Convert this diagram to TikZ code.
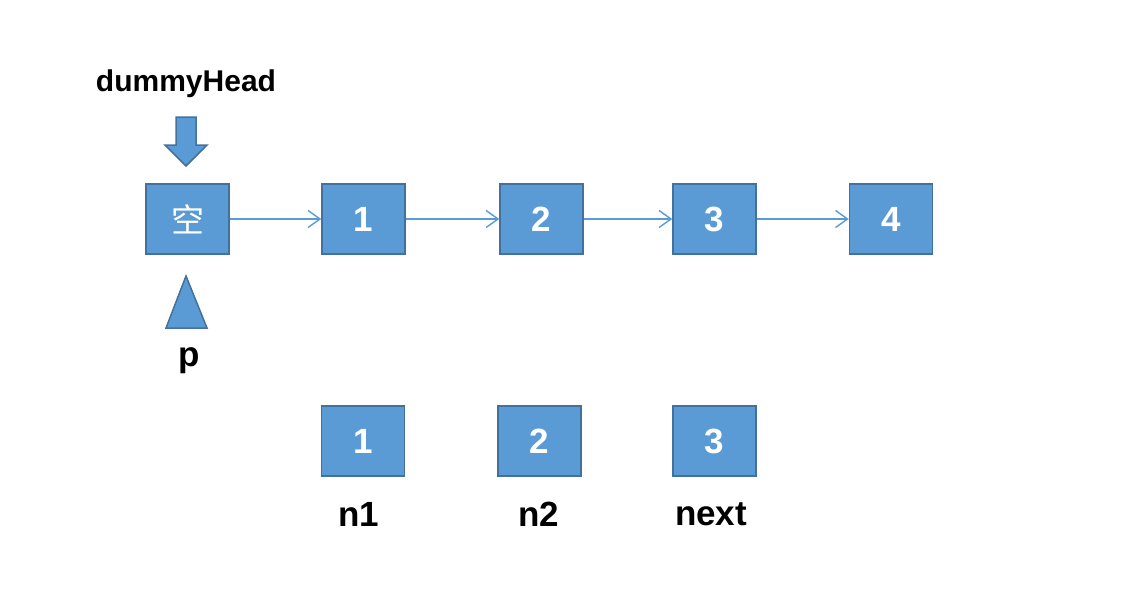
\documentclass[tikz,border=0pt]{standalone}
\usepackage{fontspec}
\setmainfont{Liberation Sans}
\newfontfamily\cjk{Noto Sans CJK SC}
\usetikzlibrary{arrows.meta}
\definecolor{boxfill}{HTML}{5B9BD5}
\definecolor{boxline}{HTML}{41719C}
\begin{document}
\begin{tikzpicture}[x=1pt,y=-1pt,
  lnode/.style={draw=boxline,fill=boxfill,line width=1.5pt,minimum width=83pt,minimum height=70pt,inner sep=0pt,text=white,font=\fontsize{35}{38}\selectfont\bfseries},
  lbl/.style={inner sep=0pt,font=\fontsize{35}{40}\selectfont\bfseries,text=black},
  link/.style={draw=boxfill,line width=1.4pt,-{Straight Barb[length=12pt,width=17pt,line width=1.4pt]}},
  pointer/.style={draw=boxline,fill=boxfill,line width=1.5pt,line join=miter}]
\useasboundingbox (0,0) rectangle (1142,592);
\node[lnode] (b0) at (187.5,219) {\cjk\mdseries\fontsize{33}{36}\selectfont 空};
\node[lnode] (b1) at (363.5,219) {1};
\node[lnode] (b2) at (541.5,219) {2};
\node[lnode] (b3) at (714.5,219) {3};
\node[lnode] (b4) at (891,219) {4};
\draw[link] (b0) -- (b1);
\draw[link] (b1) -- (b2);
\draw[link] (b2) -- (b3);
\draw[link] (b3) -- (b4);
\node[lnode] (n1) at (363,441) {1};
\node[lnode] (n2) at (539.5,441) {2};
\node[lnode] (nx) at (714.5,441) {3};
\node[lbl,font=\fontsize{30}{34}\selectfont\bfseries] (dh) at (186,84) {dummyHead};
\node[lbl] (ln1) at (359,514) {n1};
\node[lbl] (ln2) at (539,514) {n2};
\node[lbl] (lnx) at (711,514) {next};
\node[lbl] (lp) at (189,361) {p};
\draw[pointer] (176,117) -- (196,117) -- (196,145) -- (207,145) -- (186,166) -- (165,145) -- (176,145) -- cycle;
\draw[pointer] (186,276) -- (207,328) -- (166,328) -- cycle;
\end{tikzpicture}
\end{document}
